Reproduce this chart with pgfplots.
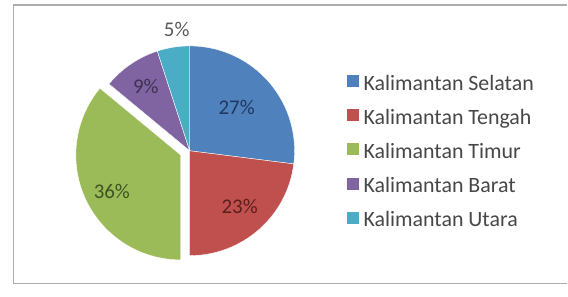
\documentclass[border=0pt]{standalone}
\usepackage{fontspec}
\setmainfont{Carlito}
\usepackage{pgfplots}
\usepackage{pgfplotstable}
\pgfplotsset{compat=1.18}
\definecolor{cA}{HTML}{4F81BD}
\definecolor{cB}{HTML}{C0504D}
\definecolor{cC}{HTML}{9BBB59}
\definecolor{cD}{HTML}{8064A2}
\definecolor{cE}{HTML}{4BACC6}
\definecolor{tA}{HTML}{1F3864}
\definecolor{tB}{HTML}{5C1F1D}
\definecolor{tC}{HTML}{3F5420}
\definecolor{tD}{HTML}{3F3151}
\definecolor{tE}{HTML}{595959}
\pgfplotstableread[col sep=comma]{
name,value
Kalimantan Selatan,27
Kalimantan Tengah,23
Kalimantan Timur,36
Kalimantan Barat,9
Kalimantan Utara,5
}\piedata
\pgfplotstablegetelem{0}{value}\of\piedata \edef\vA{\pgfplotsretval}
\pgfplotstablegetelem{1}{value}\of\piedata \edef\vB{\pgfplotsretval}
\pgfplotstablegetelem{2}{value}\of\piedata \edef\vC{\pgfplotsretval}
\pgfplotstablegetelem{3}{value}\of\piedata \edef\vD{\pgfplotsretval}
\pgfplotstablegetelem{4}{value}\of\piedata \edef\vE{\pgfplotsretval}
\pgfmathsetmacro\aA{90}
\pgfmathsetmacro\aB{\aA-3.6*\vA}
\pgfmathsetmacro\aC{\aB-3.6*\vB}
\pgfmathsetmacro\aD{\aC-3.6*\vC}
\pgfmathsetmacro\aE{\aD-3.6*\vD}
\pgfmathsetmacro\aF{\aE-3.6*\vE}
\pgfmathsetmacro\mC{(\aC+\aD)/2}
\begin{document}
\begin{tikzpicture}
\begin{axis}[
  x=1bp, y=1bp, xmin=0, xmax=568, ymin=0, ymax=297,
  hide axis, clip=false,
  legend style={draw=none, fill=none, at={(axis cs:347,222)}, anchor=north west,
    font=\fontsize{22}{26}\selectfont, text=black!72, row sep=15.2bp,
    inner sep=0pt, nodes={inner sep=0pt, text height=14bp, text depth=4bp},
    /tikz/every odd column/.append style={column sep=5bp}},
  legend cell align=left,
  legend image code/.code={\fill (0bp,-2bp) rectangle (12bp,10bp);},
]
% page area
\path (axis cs:0,0) rectangle (axis cs:568,297);
% frame
\draw[black!32, line width=1.6bp] (axis cs:568,292) -- (axis cs:13.5,292) -- (axis cs:13.5,13) -- (axis cs:568,13);
% slices
\fill[cA, draw=white, line width=0.4bp] (axis cs:190,146) -- ++(\aA:105bp) arc[start angle=\aA, end angle=\aB, radius=105bp] -- cycle;
\fill[cB, draw=white, line width=0.4bp] (axis cs:190,146) -- ++(\aB:105bp) arc[start angle=\aB, end angle=\aC, radius=105bp] -- cycle;
\fill[cC, draw=white, line width=0.4bp, shift={(\mC:10bp)}] (axis cs:190,146) -- ++(\aC:105bp) arc[start angle=\aC, end angle=\aD, radius=105bp] -- cycle;
\fill[cD, draw=white, line width=0.4bp] (axis cs:190,146) -- ++(\aD:105bp) arc[start angle=\aD, end angle=\aE, radius=105bp] -- cycle;
\fill[cE, draw=white, line width=0.4bp] (axis cs:190,146) -- ++(\aE:105bp) arc[start angle=\aE, end angle=\aF, radius=105bp] -- cycle;
% labels
\node[text=tA, font=\fontsize{21}{25}\selectfont] at (axis cs:237,189) {\vA\%};
\node[text=tB, font=\fontsize{21}{25}\selectfont] at (axis cs:240,90) {\vB\%};
\node[text=tC, font=\fontsize{21}{25}\selectfont] at (axis cs:112,105) {\vC\%};
\node[text=tD, font=\fontsize{21}{25}\selectfont] at (axis cs:146,210) {\vD\%};
\node[text=tE, font=\fontsize{21}{25}\selectfont] at (axis cs:177,267) {\vE\%};
% legend
\addlegendimage{fill=cA, draw=none}\addlegendentry{Kalimantan Selatan}
\addlegendimage{fill=cB, draw=none}\addlegendentry{Kalimantan Tengah}
\addlegendimage{fill=cC, draw=none}\addlegendentry{Kalimantan Timur}
\addlegendimage{fill=cD, draw=none}\addlegendentry{Kalimantan Barat}
\addlegendimage{fill=cE, draw=none}\addlegendentry{Kalimantan Utara}
\end{axis}
\end{tikzpicture}
\end{document}
